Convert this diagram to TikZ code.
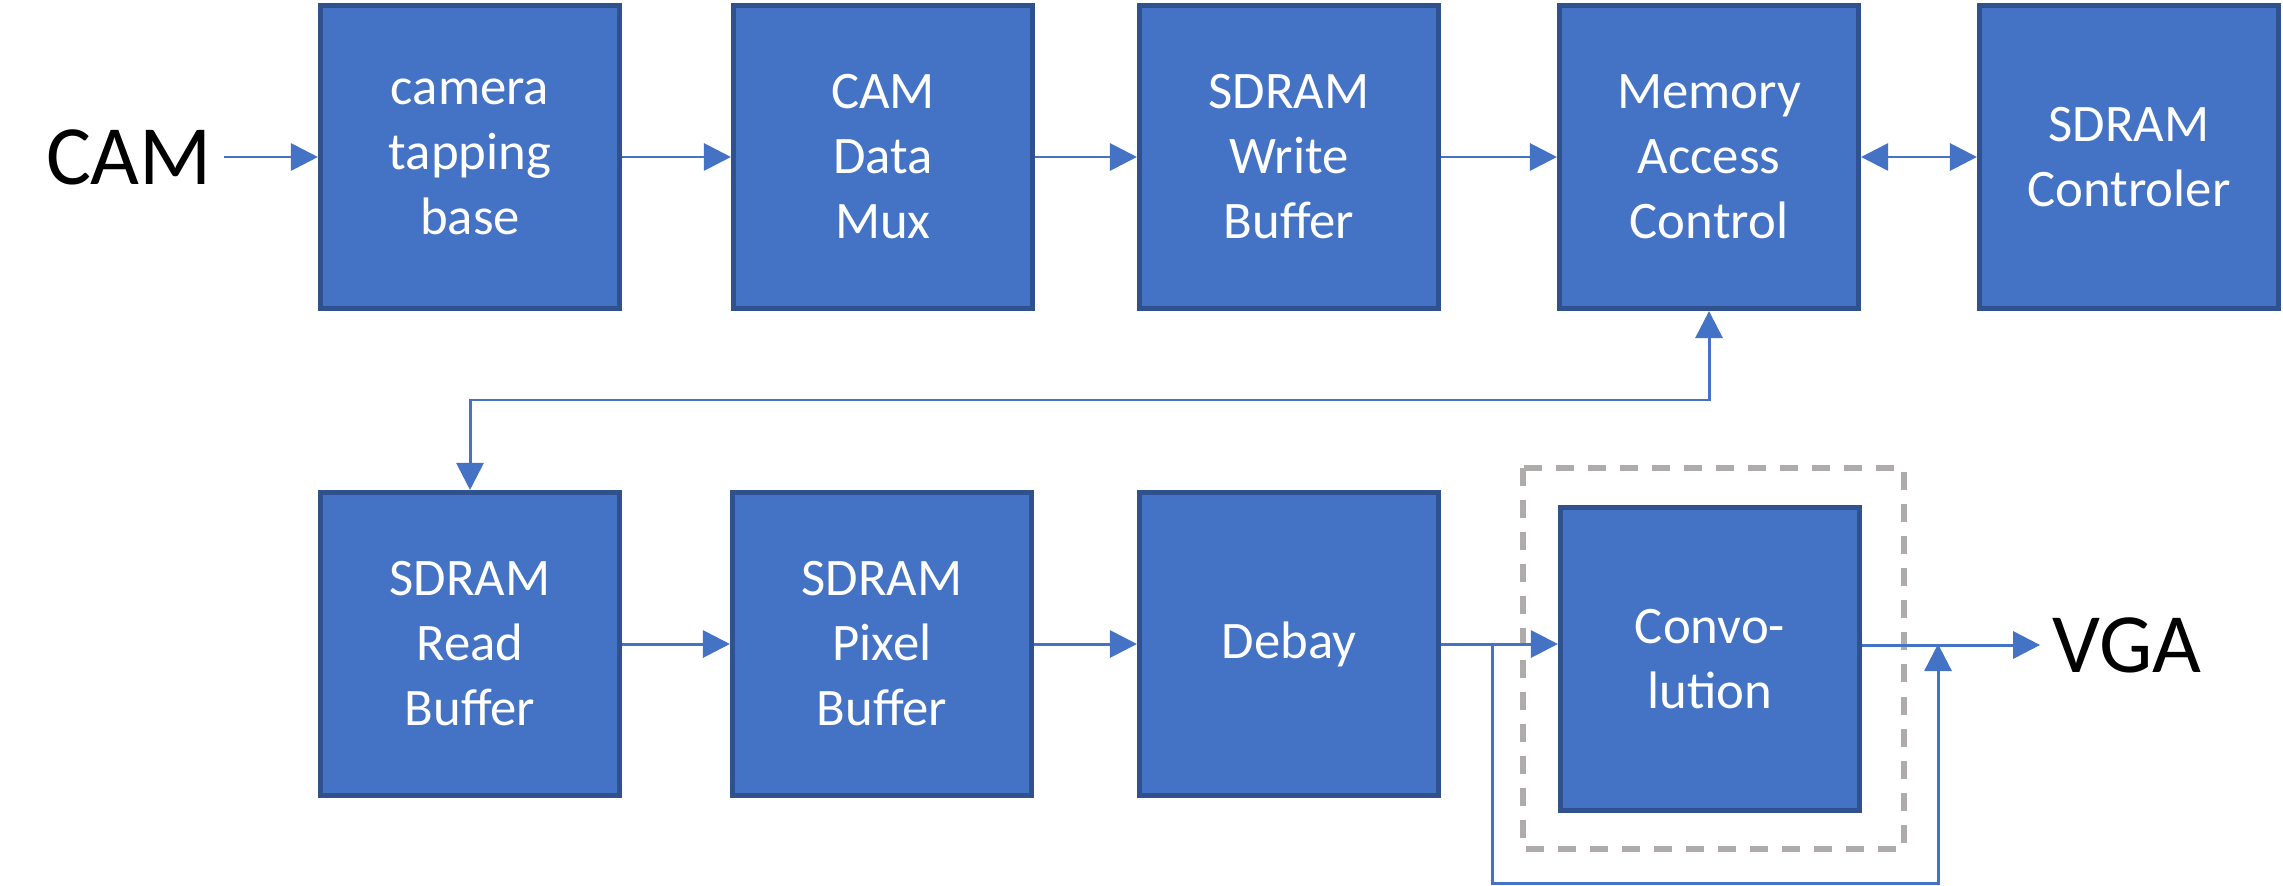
\documentclass[tikz,border=0pt]{standalone}
\usepackage{fontspec}
\setmainfont{Carlito}
\usetikzlibrary{arrows.meta}

\definecolor{boxfill}{HTML}{4472C4}
\definecolor{boxline}{HTML}{2F528F}
\definecolor{linkcol}{HTML}{4472C4}
\definecolor{framegray}{HTML}{AFABAB}

\tikzset{
  block/.style={draw=boxline, fill=boxfill, line width=1.4pt, minimum width=2.99cm,
    minimum height=3.03cm, text=white, align=center, inner sep=0pt,
    font=\fontsize{15}{18.5}\selectfont},
  tip/.tip={Triangle[length=0.27cm, width=0.27cm]},
  link/.style={draw=linkcol, line width=0.85pt, -tip},
  dlink/.style={draw=linkcol, line width=0.85pt, tip-tip},
  port/.style={font=\fontsize{24}{28}\selectfont}
}

\begin{document}
\begin{tikzpicture}[x=0.01cm, y=-0.01cm]
\useasboundingbox (0,0) rectangle (2283,885);

% Top row: camera into SDRAM
\node[port] (cam) at (129,157) {CAM};
\node[block] (tap) at (470,157) {camera\\tapping\\base};
\node[block] (mux) at (883,157) {CAM\\Data\\Mux};
\node[block] (wbuf) at (1289,157) {SDRAM\\Write\\Buffer};
\node[block] (mac) at (1709,157) {Memory\\Access\\Control};
\node[block] (ctrl) at (2129,157) {SDRAM\\Controler};

% Bottom row: SDRAM out to VGA
\node[block] (rbuf) at (470,644) {SDRAM\\Read\\Buffer};
\node[block] (pbuf) at (882,644) {SDRAM\\Pixel\\Buffer};
\node[block] (debay) at (1289,644) {Debay};
\node[block] (conv) at (1710,659) {Convo-\\lution};
\node[port] (vga) at (2127,645) {VGA};

% Frame round the convolution
\draw[framegray, line width=1.5pt, dash pattern=on 0.18cm off 0.14cm] (1523,468) rectangle (1904,849);

% Top row links
\draw[link] (cam.east) -- (tap.west);
\draw[link] (tap) -- (mux);
\draw[link] (mux) -- (wbuf);
\draw[link] (wbuf) -- (mac);
\draw[dlink] (mac) -- (ctrl);

% Read back from memory
\coordinate (fb) at (1709,400);
\draw[dlink] (mac.south) -- (fb) -| (rbuf.north);

% Bottom row links
\draw[link] (rbuf) -- (pbuf);
\draw[link] (pbuf) -- (debay);
\draw[link] (debay.east) -- (debay.east -| conv.west);
\draw[link] (conv.east |- vga.west) -- (vga.west);

% Bypass round the convolution
\coordinate (split) at (1492,644);
\coordinate (low) at (1492,883);
\coordinate (join) at (1938,644);
\draw[link] (split) -- (low) -| (join);
\end{tikzpicture}
\end{document}
